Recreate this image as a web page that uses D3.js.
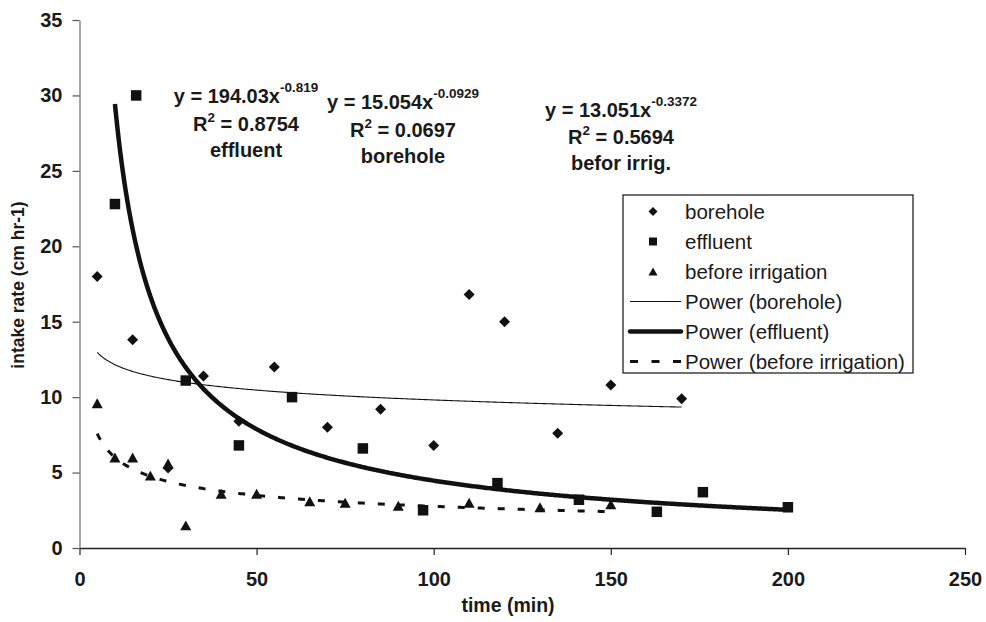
<!DOCTYPE html>
<html>
<head>
<meta charset="utf-8">
<script src="https://cdn.jsdelivr.net/npm/d3@7"></script>
<style>
  html, body { margin: 0; padding: 0; background: #fff; }
  svg { display: block; font-family: "Liberation Sans", Arial, Helvetica, sans-serif; }
</style>
</head>
<body>
<svg id="chart" width="986" height="622"></svg>
<script>
// ---- data ----
const xTicks = [0, 50, 100, 150, 200, 250];
const yTicks = [0, 5, 10, 15, 20, 25, 30, 35];

const boreholeX = [5, 15, 25, 35, 45, 55, 70, 85, 100, 110, 120, 135, 150, 170];
const boreholeY = [18, 13.8, 5.3, 11.4, 8.4, 12, 8, 9.2, 6.8, 16.8, 15, 7.6, 10.8, 9.9];

const effluentX = [10, 16, 30, 45, 60, 80, 97, 118, 141, 163, 176, 200];
const effluentY = [22.8, 30, 11.1, 6.8, 10, 6.6, 2.5, 4.3, 3.2, 2.4, 3.7, 2.7];

const beforeX = [5, 10, 15, 20, 25, 30, 40, 50, 65, 75, 90, 110, 130, 150];
const beforeY = [9.6, 6, 6, 4.8, 5.6, 1.5, 3.6, 3.6, 3.1, 3, 2.8, 3, 2.7, 2.9];

// power trendlines y = a * x^b (coefficients as printed on the chart)
const trendNames = ["borehole", "effluent", "before irrigation"];
const trendA = [15.054, 194.03, 13.051];
const trendB = [-0.0929, -0.819, -0.3372];
const trendFrom = [5, 10, 5];
const trendTo = [170, 200, 150];

const eqLines = [
  ["194.03", "-0.819", "0.8754", "effluent"],
  ["15.054", "-0.0929", "0.0697", "borehole"],
  ["13.051", "-0.3372", "0.5694", "befor irrig."]
];

const legendLabels = ["borehole", "effluent", "before irrigation",
  "Power (borehole)", "Power (effluent)", "Power (before irrigation)"];

// ---- layout ----
const svg = d3.select("#chart");
const x = d3.scaleLinear().domain([0, 250]).range([79.5, 965]);
const y = d3.scaleLinear().domain([0, 35]).range([548, 20]);

// axes
const xAxis = svg.append("g").attr("transform", "translate(0,548)")
  .call(d3.axisBottom(x).tickValues(xTicks).tickSize(7).tickSizeOuter(0).tickPadding(17));
xAxis.select(".domain").attr("stroke", "#222").attr("stroke-width", 1.3);
xAxis.selectAll(".tick line").attr("stroke", "#222").attr("stroke-width", 1.2);
xAxis.selectAll(".tick text").attr("font-size", 20).attr("font-weight", "bold")
  .attr("fill", "#1a1a1a").attr("font-family", "Liberation Sans, Arial, sans-serif");

const yAxis = svg.append("g").attr("transform", "translate(79.5,0)")
  .call(d3.axisLeft(y).tickValues(yTicks).tickSize(7).tickSizeOuter(0).tickPadding(10));
yAxis.select(".domain").attr("stroke", "#777").attr("stroke-width", 1.3);
yAxis.selectAll(".tick line").attr("stroke", "#555").attr("stroke-width", 1.2);
yAxis.selectAll(".tick text").attr("font-size", 20).attr("font-weight", "bold")
  .attr("fill", "#1a1a1a").attr("font-family", "Liberation Sans, Arial, sans-serif");

// axis titles
svg.append("text").attr("x", 508).attr("y", 612).attr("text-anchor", "middle")
  .attr("font-size", 19.5).attr("font-weight", "bold").attr("fill", "#1a1a1a")
  .text("time (min)");
svg.append("text").attr("transform", "translate(24,285) rotate(-90)")
  .attr("text-anchor", "middle").attr("font-size", 17.5).attr("font-weight", "bold")
  .attr("fill", "#1a1a1a").text("intake rate (cm hr-1)");

// trendlines
const lineGen = d3.line().x(d => x(d[0])).y(d => y(d[1]));
const trendStyles = [
  { w: 1.1, dash: null },
  { w: 4.5, dash: null },
  { w: 3, dash: "7,13" }
];
trendA.forEach((a, i) => {
  const pts = d3.range(trendFrom[i], trendTo[i] + 0.001, 0.5).map(t => [t, a * Math.pow(t, trendB[i])]);
  svg.append("path").datum(pts).attr("d", lineGen)
    .attr("fill", "none").attr("stroke", "#111")
    .attr("stroke-width", trendStyles[i].w)
    .attr("stroke-dasharray", trendStyles[i].dash);
});

// markers
function diamond(cx, cy, r) {
  return `M${cx},${cy - r}L${cx + r},${cy}L${cx},${cy + r}L${cx - r},${cy}Z`;
}
function square(cx, cy, s) {
  return `M${cx - s / 2},${cy - s / 2}h${s}v${s}h${-s}Z`;
}
function triangle(cx, cy, w) {
  const h = w * 0.9;
  return `M${cx},${cy - h / 2}L${cx + w / 2},${cy + h / 2}L${cx - w / 2},${cy + h / 2}Z`;
}

svg.append("g").selectAll("path").data(boreholeX.map((v, i) => [v, boreholeY[i]]))
  .join("path").attr("d", d => diamond(x(d[0]), y(d[1]), 5.5)).attr("fill", "#111");
svg.append("g").selectAll("path").data(effluentX.map((v, i) => [v, effluentY[i]]))
  .join("path").attr("d", d => square(x(d[0]), y(d[1]), 10.5)).attr("fill", "#111");
svg.append("g").selectAll("path").data(beforeX.map((v, i) => [v, beforeY[i]]))
  .join("path").attr("d", d => triangle(x(d[0]), y(d[1]), 11)).attr("fill", "#111");

// equation annotations
const eqPos = [[246, 103, 131, 157], [403, 109, 137, 163], [621, 117, 144, 170]];
eqLines.forEach((e, i) => {
  const [cx, b1, b2, b3] = eqPos[i];
  const g = svg.append("g").attr("font-weight", "bold").attr("fill", "#1a1a1a")
    .attr("text-anchor", "middle");
  const t1 = g.append("text").attr("x", cx).attr("y", b1).attr("font-size", 20);
  t1.append("tspan").text(`y = ${e[0]}x`);
  t1.append("tspan").attr("dy", -11).attr("font-size", 13.5).text(e[1]);
  const t2 = g.append("text").attr("x", cx).attr("y", b2).attr("font-size", 20);
  t2.append("tspan").text("R");
  t2.append("tspan").attr("dy", -9).attr("font-size", 13.5).text("2");
  t2.append("tspan").attr("dy", 9).text(` = ${e[2]}`);
  g.append("text").attr("x", cx).attr("y", b3).attr("font-size", 20).text(e[3]);
});

// legend
const lg = svg.append("g");
lg.append("rect").attr("x", 623).attr("y", 195).attr("width", 290).attr("height", 178)
  .attr("fill", "#fff").attr("stroke", "#111").attr("stroke-width", 1.2);
legendLabels.forEach((lab, i) => {
  const cy = 211.5 + i * 30;
  if (i === 0) lg.append("path").attr("d", diamond(653, cy, 4.5)).attr("fill", "#111");
  if (i === 1) lg.append("path").attr("d", square(653, cy, 8)).attr("fill", "#111");
  if (i === 2) lg.append("path").attr("d", triangle(653, cy, 9)).attr("fill", "#111");
  if (i >= 3) {
    const st = trendStyles[i - 3];
    lg.append("line").attr("x1", 630).attr("x2", 681).attr("y1", cy).attr("y2", cy)
      .attr("stroke", "#111").attr("stroke-width", st.w)
      .attr("stroke-linecap", i === 4 ? "round" : "butt")
      .attr("stroke-dasharray", st.dash ? "8,13.5" : null);
  }
  lg.append("text").attr("x", 685).attr("y", cy).attr("dy", "0.36em")
    .attr("font-size", 20.5).attr("fill", "#1a1a1a").text(lab);
});
</script>
</body>
</html>
